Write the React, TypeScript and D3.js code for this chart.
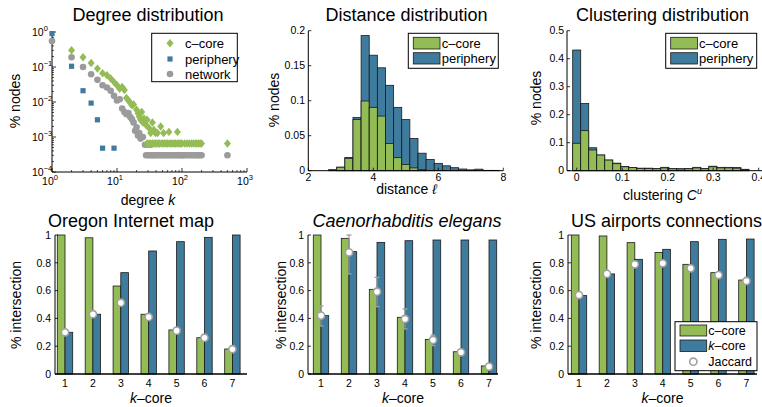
import React from 'react';
import * as d3 from 'd3';

const FONT = '"Liberation Sans", Arial, Helvetica, sans-serif';
const GREEN = '#94bc56';
const BLUE = '#3f7b9c';
const GRAY = '#9b9b9b';
const EDGE = '#1a1a1a';

// ---------- Degree distribution (k, fraction of nodes) ----------
const degCcore: [number, number][] = [
  [2, 0.3], [3, 0.19], [4, 0.13], [5, 0.09], [6, 0.066], [7, 0.058], [8, 0.047], [9, 0.037],
  [10, 0.03], [11, 0.024], [12, 0.027], [13, 0.022], [14, 0.013], [15, 0.011], [16, 0.0095],
  [17, 0.008], [18, 0.0085], [20, 0.006], [21, 0.0048], [22, 0.0038], [23, 0.0031], [24, 0.0052],
  [25, 0.0026], [26, 0.0034], [28, 0.0022], [29, 0.0031], [31, 0.0018], [33, 0.0013], [35, 0.0026],
  [37, 0.0016], [39, 0.0013], [42, 0.0013], [47, 0.002], [52, 0.0013], [63, 0.0014], [85, 0.0014],
  [29, 0.00065], [31, 0.00065], [33, 0.00065], [35, 0.00065], [37, 0.00065], [39, 0.00065],
  [41, 0.00065], [43, 0.00065], [45, 0.00065], [48, 0.00065], [51, 0.00065], [54, 0.00065],
  [57, 0.00065], [60, 0.00065], [64, 0.00065], [68, 0.00065], [72, 0.00065], [76, 0.00065],
  [80, 0.00065], [85, 0.00065], [90, 0.00065], [95, 0.00065], [100, 0.00065], [110, 0.00065],
  [120, 0.00065], [130, 0.00065], [140, 0.00065], [150, 0.00065], [160, 0.00065], [170, 0.00065],
  [180, 0.00065], [190, 0.00065], [200, 0.00065], [500, 0.00065],
];
const degPeriphery: [number, number][] = [
  [1, 0.9], [2, 0.105], [3, 0.021], [4, 0.0093], [5, 0.0031], [6, 0.00048], [9, 0.00048],
];
const degNetwork: [number, number][] = [
  [1, 0.55], [2, 0.19], [3, 0.1], [4, 0.062], [5, 0.043], [6, 0.03], [7, 0.026], [8, 0.021],
  [9, 0.015], [10, 0.011], [11, 0.012], [12, 0.0065], [13, 0.0052], [14, 0.0045], [15, 0.0048],
  [16, 0.0037], [17, 0.0032], [18, 0.0026], [19, 0.0015], [20, 0.0019], [21, 0.0011], [22, 0.0013],
  [23, 0.0009], [25, 0.001], [27, 0.0006], [30, 0.0006], [33, 0.0006],
  [28, 0.0003], [30, 0.0003], [32, 0.0003], [34, 0.0003], [36, 0.0003], [38, 0.0003], [40, 0.0003],
  [43, 0.0003], [46, 0.0003], [49, 0.0003], [52, 0.0003], [55, 0.0003], [58, 0.0003], [62, 0.0003],
  [66, 0.0003], [70, 0.0003], [75, 0.0003], [80, 0.0003], [85, 0.0003], [90, 0.0003], [95, 0.0003],
  [100, 0.0003], [105, 0.0003], [110, 0.0003], [120, 0.0003], [130, 0.0003], [140, 0.0003],
  [150, 0.0003], [160, 0.0003], [170, 0.0003], [180, 0.0003], [190, 0.0003], [200, 0.0003], [500, 0.0003],
];

// ---------- Distance distribution (stacked) ----------
const distBins = [2.25, 2.5, 2.75, 3.0, 3.25, 3.5, 3.75, 4.0, 4.25, 4.5, 4.75, 5.0, 5.25, 5.5, 5.75, 6.0, 6.25, 6.5, 6.75, 7.0, 7.25, 7.5, 7.75];
const distCcore = [0, 0, 0, 0.005, 0.0177, 0.073, 0.0996, 0.0905, 0.078, 0.039, 0.0186, 0.009, 0.004, 0.0015, 0, 0, 0, 0, 0, 0, 0, 0, 0];
const distPeriphery = [0, 0, 0.0015, 0, 0.0013, 0.003, 0.0934, 0.0745, 0.069, 0.083, 0.0719, 0.064, 0.042, 0.0235, 0.016, 0.0105, 0.007, 0.0043, 0.0024, 0.0012, 0.0022, 0.0005, 0.0005];
const distBinWidth = 0.25;

// ---------- Clustering distribution (stacked) ----------
const clusBins = [0, 0.0176, 0.0352, 0.0528, 0.0704, 0.088, 0.1056, 0.1232, 0.1408, 0.1584, 0.176, 0.1936, 0.2112, 0.2288, 0.2464, 0.264, 0.2816, 0.2992, 0.3168, 0.3344, 0.352, 0.3696];
const clusCcore = [0.098, 0.143, 0.074, 0.056, 0.038, 0.025, 0.014, 0.011, 0.008, 0.008, 0.007, 0.01, 0.007, 0.006, 0.007, 0.01, 0.007, 0.014, 0.01, 0.01, 0.009, 0.004];
const clusPeriphery = [0.333, 0.097, 0.008, 0, 0, 0.002, 0.001, 0, 0.001, 0.001, 0.001, 0.002, 0.001, 0.001, 0.001, 0.002, 0.001, 0.002, 0.002, 0.002, 0.002, 0.001];
const clusBinWidth = 0.0176;

// ---------- k-core intersection panels ----------
const kcores = [1, 2, 3, 4, 5, 6, 7];
const oregonC = [1.0, 0.98, 0.633, 0.43, 0.317, 0.261, 0.18];
const oregonK = [0.30, 0.43, 0.729, 0.885, 0.952, 0.983, 1.0];
const oregonJ = [0.30, 0.43, 0.513, 0.41, 0.312, 0.261, 0.178];

const elegansC = [1.0, 0.976, 0.609, 0.408, 0.249, 0.16, 0.058];
const elegansK = [0.42, 0.88, 0.947, 0.959, 0.964, 0.964, 0.964];
const elegansJ = [0.42, 0.875, 0.592, 0.396, 0.245, 0.156, 0.053];
const elegansJLo = [0.345, 0.72, 0.484, 0.324, 0.204, 0.146, 0.045];
const elegansJHi = [0.49, 1.0, 0.695, 0.468, 0.28, 0.166, 0.061];

const usC = [1.0, 0.993, 0.945, 0.875, 0.789, 0.729, 0.676];
const usK = [0.564, 0.72, 0.825, 0.897, 0.952, 0.969, 0.971];
const usJ = [0.568, 0.72, 0.789, 0.796, 0.76, 0.712, 0.669];

const bottomYTicks = [0, 0.2, 0.4, 0.6, 0.8, 1];
const bottomYLabels = ['0', '0.2', '0.4', '0.6', '0.8', '1'];

const TICK_FS = 10.5;
const LABEL_FS = 14;
const TITLE_FS = 18;

function diamond(cx: number, cy: number) {
  return `M${cx},${cy - 4.2}L${cx + 3.5},${cy}L${cx},${cy + 4.2}L${cx - 3.5},${cy}Z`;
}

function DegreePanel() {
  const x = d3.scaleLog().domain([1, 1000]).range([52, 247]);
  const y = d3.scaleLog().domain([1e-4, 1]).range([172, 32]);
  const xMinor: number[] = [];
  for (let d = 1; d < 1000; d *= 10) for (let m = 2; m < 10; m++) xMinor.push(d * m);
  const yMinor: number[] = [];
  for (let d = 1e-4; d < 1; d *= 10) for (let m = 2; m < 10; m++) yMinor.push(d * m);
  const xMajor = [1, 10, 100, 1000];
  const yMajor = [1e-4, 1e-3, 1e-2, 1e-1, 1];
  return (
    <g>
      <text x={148} y={20.5} fontSize={TITLE_FS} textAnchor="middle">Degree distribution</text>
      {xMinor.map((v, i) => <line key={'xm' + i} x1={x(v)} x2={x(v)} y1={172} y2={170} stroke="#000" strokeWidth={0.7} />)}
      {xMajor.map((v, i) => <line key={'xM' + i} x1={x(v)} x2={x(v)} y1={172} y2={168} stroke="#000" strokeWidth={0.8} />)}
      {yMinor.map((v, i) => <line key={'ym' + i} x1={52} x2={54} y1={y(v)} y2={y(v)} stroke="#000" strokeWidth={0.7} />)}
      {yMajor.map((v, i) => <line key={'yM' + i} x1={52} x2={56} y1={y(v)} y2={y(v)} stroke="#000" strokeWidth={0.8} />)}
      <line x1={52} x2={247} y1={172} y2={172} stroke="#000" />
      <line x1={52} x2={52} y1={32} y2={172} stroke="#000" />
      {xMajor.map((v, i) => (
        <text key={'xl' + i} x={x(v) - 2} y={185} fontSize={TICK_FS} textAnchor="middle">
          10<tspan dy={-5} fontSize={7.5}>{Math.round(Math.log10(v))}</tspan>
        </text>
      ))}
      {yMajor.map((v, i) => (
        <text key={'yl' + i} x={32} y={y(v) + 4} fontSize={TICK_FS} textAnchor="start">
          10<tspan dy={-5} fontSize={7.5}>{Math.round(Math.log10(v)).toString().replace('-', '\u2212')}</tspan>
        </text>
      ))}
      {degNetwork.map(([k, p], i) => <circle key={'n' + i} cx={x(k)} cy={y(p)} r={3.3} fill={GRAY} />)}
      {degCcore.map(([k, p], i) => <path key={'c' + i} d={diamond(x(k), y(p))} fill={GREEN} />)}
      {degPeriphery.map(([k, p], i) => <rect key={'p' + i} x={x(k) - 2.6} y={y(p) - 2.6} width={5.2} height={5.2} fill={BLUE} />)}
      <text x={148} y={205} fontSize={LABEL_FS} textAnchor="middle">degree <tspan fontStyle="italic">k</tspan></text>
      <text transform="translate(20,101) rotate(-90)" fontSize={LABEL_FS} textAnchor="middle">% nodes</text>
      <rect x={151.7} y={33.3} width={85.6} height={48.4} fill="#fff" stroke="#000" strokeWidth={1} />
      <path d={diamond(170, 43.3)} fill={GREEN} />
      <rect x={167.4} y={56.4} width={5.2} height={5.2} fill={BLUE} />
      <circle cx={170} cy={74} r={3.3} fill={GRAY} />
      <text x={185} y={48} fontSize={13}>c–core</text>
      <text x={185} y={63.5} fontSize={13}>periphery</text>
      <text x={185} y={78.5} fontSize={13}>network</text>
    </g>
  );
}

function HistLegend({ x0, y0, w }: { x0: number; y0: number; w: number }) {
  return (
    <g>
      <rect x={x0} y={y0} width={w} height={35} fill="#fff" stroke="#000" strokeWidth={1} />
      <rect x={x0 + 5} y={y0 + 4} width={26.7} height={11.7} fill={GREEN} stroke={EDGE} strokeWidth={0.8} />
      <rect x={x0 + 5} y={y0 + 19.4} width={26.7} height={11.3} fill={BLUE} stroke={EDGE} strokeWidth={0.8} />
      <text x={x0 + 33.4} y={y0 + 14.3} fontSize={13}>c–core</text>
      <text x={x0 + 33.4} y={y0 + 29.7} fontSize={13}>periphery</text>
    </g>
  );
}

function DistancePanel() {
  const x = d3.scaleLinear().domain([2, 8]).range([308.3, 503.3]);
  const y = d3.scaleLinear().domain([0, 0.2]).range([170.7, 30.7]);
  const yt = [0, 0.05, 0.1, 0.15, 0.2];
  const ytl = ['0', '0.05', '0.1', '0.15', '0.2'];
  const xt = [2, 4, 6, 8];
  return (
    <g>
      <text x={406.5} y={20.5} fontSize={TITLE_FS} textAnchor="middle">Distance distribution</text>
      {distBins.map((b, i) => {
        const x0 = x(b - distBinWidth / 2), x1 = x(b + distBinWidth / 2);
        const tot = distCcore[i] + distPeriphery[i];
        return (
          <g key={i}>
            <rect x={x0} y={y(tot)} width={x1 - x0} height={y(0) - y(tot)} fill={BLUE} stroke={EDGE} strokeWidth={0.8} />
            <rect x={x0} y={y(distCcore[i])} width={x1 - x0} height={y(0) - y(distCcore[i])} fill={GREEN} stroke={EDGE} strokeWidth={0.8} />
          </g>
        );
      })}
      <line x1={308.3} x2={503.3} y1={170.7} y2={170.7} stroke="#000" />
      <line x1={308.3} x2={308.3} y1={30.7} y2={170.7} stroke="#000" />
      {yt.map((v, i) => (
        <g key={'y' + i}>
          <line x1={308.3} x2={311.3} y1={y(v)} y2={y(v)} stroke="#000" strokeWidth={0.8} />
          <text x={305} y={y(v) + 3.7} fontSize={TICK_FS} textAnchor="end">{ytl[i]}</text>
        </g>
      ))}
      {xt.map((v, i) => (
        <g key={'x' + i}>
          <line x1={x(v)} x2={x(v)} y1={170.7} y2={167.7} stroke="#000" strokeWidth={0.8} />
          <text x={x(v)} y={181} fontSize={TICK_FS} textAnchor="middle">{v}</text>
        </g>
      ))}
      <text x={406.5} y={193.5} fontSize={LABEL_FS} textAnchor="middle">distance <tspan fontStyle="italic">ℓ</tspan></text>
      <text transform="translate(279,100) rotate(-90)" fontSize={LABEL_FS} textAnchor="middle">% nodes</text>
      <HistLegend x0={408.3} y0={33.3} w={90} />
    </g>
  );
}

function ClusteringPanel() {
  const x = d3.scaleLinear().domain([0, 0.4]).range([576.7, 758.7]);
  const y = d3.scaleLinear().domain([0, 0.5]).range([170.7, 30.7]);
  const yt = [0, 0.1, 0.2, 0.3, 0.4, 0.5];
  const xt = [0, 0.1, 0.2, 0.3, 0.4];
  const left = 567;
  return (
    <g>
      <text x={662.5} y={20.5} fontSize={TITLE_FS} textAnchor="middle">Clustering distribution</text>
      {clusBins.map((b, i) => {
        const x0 = x(b - clusBinWidth / 2), x1 = x(b + clusBinWidth / 2);
        const tot = clusCcore[i] + clusPeriphery[i];
        return (
          <g key={i}>
            <rect x={x0} y={y(tot)} width={x1 - x0} height={y(0) - y(tot)} fill={BLUE} stroke={EDGE} strokeWidth={0.8} />
            <rect x={x0} y={y(clusCcore[i])} width={x1 - x0} height={y(0) - y(clusCcore[i])} fill={GREEN} stroke={EDGE} strokeWidth={0.8} />
          </g>
        );
      })}
      <line x1={left} x2={762} y1={170.7} y2={170.7} stroke="#000" />
      <line x1={left} x2={left} y1={30.7} y2={170.7} stroke="#000" />
      {yt.map((v, i) => (
        <g key={'y' + i}>
          <line x1={left} x2={left + 3} y1={y(v)} y2={y(v)} stroke="#000" strokeWidth={0.8} />
          <text x={left - 3} y={y(v) + 3.7} fontSize={TICK_FS} textAnchor="end">{v === 0 ? '0' : v.toString()}</text>
        </g>
      ))}
      {xt.map((v, i) => (
        <g key={'x' + i}>
          <line x1={x(v)} x2={x(v)} y1={170.7} y2={167.7} stroke="#000" strokeWidth={0.8} />
          <text x={x(v)} y={181} fontSize={TICK_FS} textAnchor="middle">{v === 0 ? '0' : v.toString()}</text>
        </g>
      ))}
      <text x={662.5} y={200} fontSize={LABEL_FS} textAnchor="middle">clustering <tspan fontStyle="italic">C</tspan><tspan dy={-6} fontSize={9} fontStyle="italic">u</tspan></text>
      <text transform="translate(541,98) rotate(-90)" fontSize={LABEL_FS} textAnchor="middle">% nodes</text>
      <HistLegend x0={665.7} y0={33.3} w={91} />
    </g>
  );
}

function KCorePanel({ title, italic, c1x, step, axL, axR, labelX, cVals, kVals, jVals, jLo, jHi, legend }: {
  title: string; italic?: boolean; c1x: number; step: number; axL: number; axR: number; labelX: number;
  cVals: number[]; kVals: number[]; jVals: number[]; jLo?: number[]; jHi?: number[]; legend?: boolean;
}) {
  const x = d3.scaleLinear().domain([1, 7]).range([c1x, c1x + 6 * step]);
  const y = d3.scaleLinear().domain([0, 1]).range([374, 235]);
  const bw = 7.7;
  const cx = (axL + axR) / 2;
  return (
    <g>
      <text x={title === 'Oregon Internet map' ? 131 : cx + 4} y={226.5} fontSize={TITLE_FS} textAnchor="middle" fontStyle={italic ? 'italic' : 'normal'}>{title}</text>
      {kcores.map((k, i) => (
        <g key={'b' + i}>
          <rect x={x(k) - bw} y={y(cVals[i])} width={bw} height={y(0) - y(cVals[i])} fill={GREEN} stroke={EDGE} strokeWidth={0.8} />
          <rect x={x(k)} y={y(kVals[i])} width={bw} height={y(0) - y(kVals[i])} fill={BLUE} stroke={EDGE} strokeWidth={0.8} />
        </g>
      ))}
      {jLo && jHi && kcores.map((k, i) => (
        <g key={'e' + i} stroke="#a0a0a0" strokeWidth={1.3}>
          <line x1={x(k)} x2={x(k)} y1={y(jLo[i])} y2={y(jHi[i])} />
          <line x1={x(k) - 2.5} x2={x(k) + 2.5} y1={y(jLo[i])} y2={y(jLo[i])} />
          <line x1={x(k) - 2.5} x2={x(k) + 2.5} y1={y(jHi[i])} y2={y(jHi[i])} />
        </g>
      ))}
      {kcores.map((k, i) => (
        <circle key={'j' + i} cx={x(k)} cy={y(jVals[i])} r={3.6} fill="#fff" stroke="#a0a0a0" strokeWidth={1.6} />
      ))}
      <line x1={axL} x2={axR} y1={374} y2={374} stroke="#000" strokeWidth={1.3} />
      <line x1={axL} x2={axL} y1={235} y2={374} stroke="#000" />
      {bottomYTicks.map((v, i) => (
        <g key={'y' + i}>
          <line x1={axL} x2={axL + 3} y1={y(v)} y2={y(v)} stroke="#000" strokeWidth={0.8} />
          <text x={axL - 4} y={y(v) + 3.7} fontSize={TICK_FS} textAnchor="end">{bottomYLabels[i]}</text>
        </g>
      ))}
      {kcores.map((k, i) => (
        <text key={'x' + i} x={x(k)} y={387} fontSize={TICK_FS} textAnchor="middle">{k}</text>
      ))}
      <text x={cx} y={403} fontSize={LABEL_FS} textAnchor="middle"><tspan fontStyle="italic">k</tspan>–core</text>
      <text transform={`translate(${labelX},305) rotate(-90)`} fontSize={LABEL_FS} textAnchor="middle">% intersection</text>
      {legend && (
        <g>
          <rect x={675} y={321.7} width={82} height={49} fill="#fff" stroke="#000" strokeWidth={1} />
          <rect x={680} y={325} width={26.7} height={11} fill={GREEN} stroke={EDGE} strokeWidth={0.8} />
          <rect x={680} y={340} width={26.7} height={11.5} fill={BLUE} stroke={EDGE} strokeWidth={0.8} />
          <circle cx={693.3} cy={361.7} r={3.6} fill="#fff" stroke="#a0a0a0" strokeWidth={1.6} />
          <text x={708.3} y={335} fontSize={12.5}>c–core</text>
          <text x={708.3} y={350} fontSize={12.5}><tspan fontStyle="italic">k</tspan>–core</text>
          <text x={708.3} y={365.7} fontSize={12.5}>Jaccard</text>
        </g>
      )}
    </g>
  );
}

export default function App() {
  return (
    <svg width={762} height={407} style={{ position: 'absolute', left: 0, top: 0, background: '#fff' }} fontFamily={FONT}>
      <rect x={0} y={0} width={762} height={407} fill="#fff" />
      <DegreePanel />
      <DistancePanel />
      <ClusteringPanel />
      <KCorePanel title="Oregon Internet map" c1x={65} step={27.9} axL={55} axR={247} labelX={20.5}
        cVals={oregonC} kVals={oregonK} jVals={oregonJ} />
      <KCorePanel title="Caenorhabditis elegans" italic c1x={321} step={28} axL={308} axR={498} labelX={286}
        cVals={elegansC} kVals={elegansK} jVals={elegansJ} jLo={elegansJLo} jHi={elegansJHi} />
      <KCorePanel title="US airports connections" c1x={579} step={27.9} axL={568} axR={757} labelX={541}
        cVals={usC} kVals={usK} jVals={usJ} legend />
    </svg>
  );
}
